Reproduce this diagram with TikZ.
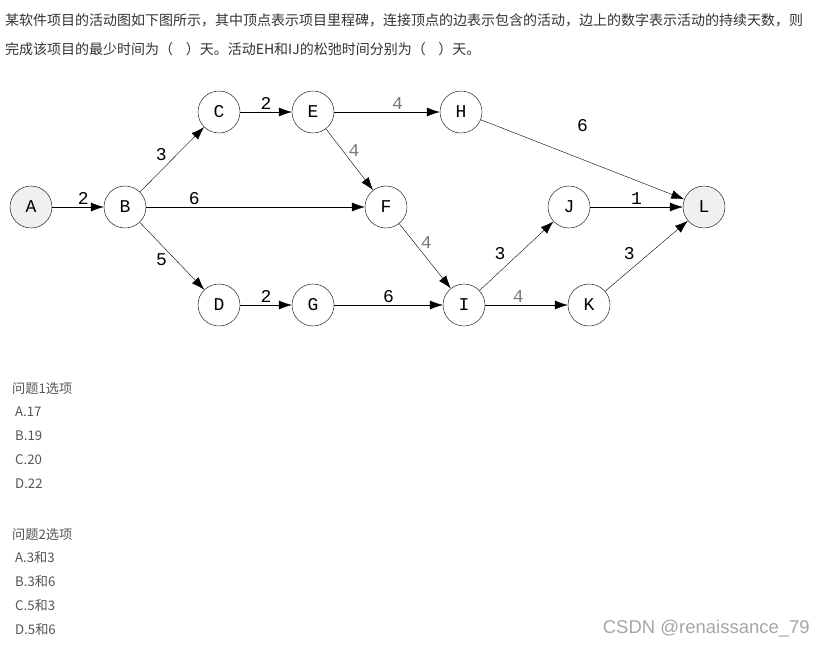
\documentclass[tikz,border=0pt]{standalone}
\usepackage{fontspec}
\usepackage{xcolor}
\usepackage{tikz}
\usetikzlibrary{arrows.meta,positioning,calc}
\newfontfamily\cjk{Noto Sans CJK SC}
\newfontfamily\letterfont{Liberation Mono}
\newfontfamily\wmfont{Liberation Sans}
\definecolor{txtgrey}{HTML}{333333}
\definecolor{optgrey}{HTML}{555555}
\definecolor{lblgrey}{HTML}{777777}
\definecolor{nodefill}{HTML}{F0F0F0}

\begin{document}
\begin{tikzpicture}[x=1pt,y=-1pt,
  vtx/.style={draw,circle,minimum size=42pt,inner sep=0pt,
              font=\letterfont\fontsize{18}{18}\selectfont},
  endvtx/.style={vtx,fill=nodefill},
  lbl/.style={font=\letterfont\fontsize{18}{18}\selectfont,inner sep=2pt},
  glbl/.style={lbl,text=lblgrey},
  txt/.style={anchor=west,inner sep=0pt,text=txtgrey,
              font=\cjk\fontsize{14}{16}\selectfont},
  opt/.style={anchor=west,inner sep=0pt,text=optgrey,
              font=\cjk\fontsize{13.2}{15}\selectfont},
  >={Latex[length=13pt,width=9pt]}]
  \useasboundingbox (0,0) rectangle (825,648);
  % question text
  \node[txt] (q1) at (5,20) {某软件项目的活动图如下图所示，其中顶点表示项目里程碑，连接顶点的边表示包含的活动，边上的数字表示活动的持续天数，则};
  \node[txt] (q2) at (5,49) {完成该项目的最少时间为（\hspace{0.9em}）天。活动EH和IJ的松弛时间分别为（\hspace{0.9em}）天。};
  % milestones
  \node[endvtx] (A) at (31,207) {A};
  \node[vtx] (B) at (125,207) {B};
  \node[vtx] (C) at (219,112) {C};
  \node[vtx] (E) at (313,112) {E};
  \node[vtx] (H) at (461,112) {H};
  \node[vtx] (F) at (386,207) {F};
  \node[vtx] (D) at (219,305) {D};
  \node[vtx] (G) at (313,305) {G};
  \node[vtx] (I) at (464,305) {I};
  \node[vtx] (J) at (569,207) {J};
  \node[vtx] (K) at (589,305) {K};
  \node[endvtx] (L) at (704,207) {L};
  % activities
  \draw[->] (A) -- node[lbl,above,pos=0.6] {2} (B);
  \draw[->] (B) -- node[lbl,above left,pos=0.45] {3} (C);
  \draw[->] (B) -- node[lbl,above,pos=0.22] {6} (F);
  \draw[->] (B) -- node[lbl,left=6pt,pos=0.55] {5} (D);
  \draw[->] (C) -- node[lbl,above] {2} (E);
  \draw[->] (E) -- node[glbl,above,pos=0.6] {4} (H);
  \draw[->] (E) -- node[glbl,right=4pt,pos=0.35] {4} (F);
  \draw[->] (D) -- node[lbl,above] {2} (G);
  \draw[->] (G) -- node[lbl,above] {6} (I);
  \draw[->] (F) -- node[glbl,right=4pt,pos=0.3] {4} (I);
  \draw[->] (H) -- node[lbl,above=26pt,pos=0.5] {6} (L);
  \draw[->] (I) -- node[lbl,above left=2pt,pos=0.4] {3} (J);
  \draw[->] (I) -- node[glbl,above,pos=0.4] {4} (K);
  \draw[->] (J) -- node[lbl,above] {1} (L);
  \draw[->] (K) -- node[lbl,above left=2pt,pos=0.4] {3} (L);
  % options
  \node[opt] (p1) at (12,389) {问题1选项};
  \node[opt] (p1a) at (15,412) {A.17};
  \node[opt] (p1b) at (15,436) {B.19};
  \node[opt] (p1c) at (15,460) {C.20};
  \node[opt] (p1d) at (15,484) {D.22};
  \node[opt] (p2) at (12,535) {问题2选项};
  \node[opt] (p2a) at (15,558) {A.3和3};
  \node[opt] (p2b) at (15,582) {B.3和6};
  \node[opt] (p2c) at (15,606) {C.5和3};
  \node[opt] (p2d) at (15,630) {D.5和6};
  % watermark
  \node[anchor=east,inner sep=0pt,text=black!35,
        font=\wmfont\fontsize{18.5}{18.5}\selectfont] (wm) at (810,629) {CSDN @renaissance\_79};
\end{tikzpicture}
\end{document}
